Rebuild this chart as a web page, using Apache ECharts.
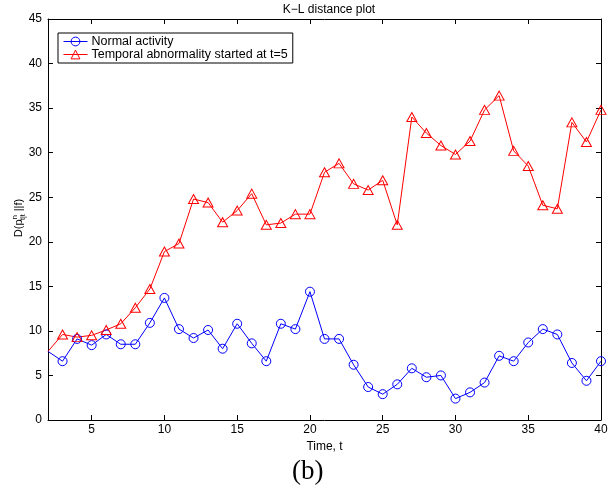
<!DOCTYPE html>
<html>
<head>
<meta charset="utf-8">
<script src="https://cdn.jsdelivr.net/npm/echarts@6/dist/echarts.min.js"></script>
<style>
  html, body { margin: 0; padding: 0; background: #fff; }
  #main { width: 613px; height: 490px; }
</style>
</head>
<body>
<div id="main"></div>
<script>
// data
let times = [2,3,4,5,6,7,8,9,10,11,12,13,14,15,16,17,18,19,20,21,22,23,24,25,26,27,28,29,30,31,32,33,34,35,36,37,38,39,40];
let normalVals = [7.7,6.6,9.1,8.4,9.6,8.5,8.5,10.9,13.7,10.2,9.2,10.1,8.0,10.8,8.6,6.6,10.8,10.2,14.4,9.1,9.1,6.2,3.7,2.9,4.0,5.8,4.8,5.0,2.4,3.1,4.2,7.2,6.6,8.7,10.2,9.6,6.4,4.4,6.6];
let abnormalVals = [7.7,9.6,9.3,9.5,10.1,10.8,12.6,14.7,18.9,19.8,24.8,24.4,22.2,23.5,25.4,21.9,22.1,23.1,23.1,27.8,28.8,26.5,25.8,26.9,21.9,34.0,32.2,30.8,29.8,31.3,34.8,36.4,30.2,28.5,24.1,23.7,33.4,31.2,34.8];
let xTicks = [5,10,15,20,25,30,35,40];
let seriesNames = ['Normal activity', 'Temporal abnormality started at t=5'];

// first point sits on the left axis and has no marker in the picture
let pairs = function (vals) {
    return times.map(function (t, i) {
        if (i === 0) return { value: [t, vals[i]], symbol: 'none' };
        return [t, vals[i]];
    });
};

let myChart = echarts.init(document.getElementById('main'));

let font = 'Liberation Sans, Arial, sans-serif';
let axisCommon = {
    axisLine: { show: true, onZero: false, lineStyle: { color: '#000', width: 1 } },
    axisTick: { show: true, inside: true, length: 5, lineStyle: { color: '#000' } },
    splitLine: { show: false }
};

let option = {
    animation: false,
    backgroundColor: '#fff',
    title: {
        text: 'K\u2212L distance plot',
        left: 324, top: -1, textAlign: 'center',
        textStyle: { fontFamily: font, fontSize: 12, fontWeight: 'normal', color: '#000' }
    },
    legend: {
        left: 58, top: 33,
        orient: 'vertical',
        data: seriesNames,
        backgroundColor: '#fff',
        borderColor: '#000', borderWidth: 1, borderRadius: 0,
        padding: [2, 5, 2, 5],
        itemGap: 0,
        itemWidth: 24, itemHeight: 11,
        lineStyle: { width: 1 },
        itemStyle: { borderWidth: 1 },
        textStyle: { fontFamily: font, fontSize: 12.5, color: '#000', padding: [0, 0, 0, -1] }
    },
    grid: { left: 48, right: 12, top: 19, bottom: 70, containLabel: false, outerBoundsMode: 'none' },
    xAxis: [
        Object.assign({}, axisCommon, {
            type: 'value', min: 2, max: 40,
            name: 'Time, t', nameLocation: 'middle', nameGap: 16,
            nameTextStyle: { fontFamily: font, fontSize: 12, color: '#000' },
            axisTick: { show: true, inside: true, length: 5, lineStyle: { color: '#000' }, customValues: xTicks },
            axisLabel: { fontFamily: font, fontSize: 12, color: '#000', margin: 4, customValues: xTicks }
        }),
        Object.assign({}, axisCommon, {
            type: 'value', min: 2, max: 40, position: 'top',
            axisTick: { show: true, inside: true, length: 5, lineStyle: { color: '#000' }, customValues: xTicks },
            axisLabel: { show: false }
        })
    ],
    yAxis: [
        Object.assign({}, axisCommon, {
            type: 'value', min: 0, max: 45, interval: 5,
            axisLabel: { fontFamily: font, fontSize: 12, color: '#000', margin: 6 }
        }),
        Object.assign({}, axisCommon, {
            type: 'value', min: 0, max: 45, interval: 5, position: 'right',
            axisLabel: { show: false }
        })
    ],
    series: [
        {
            name: seriesNames[0],
            type: 'line',
            data: pairs(normalVals),
            symbol: 'circle', symbolSize: 9,
            color: '#0000ff',
            lineStyle: { width: 1, color: '#0000ff' },
            itemStyle: { color: 'rgba(255,255,255,0)', borderColor: '#0000ff', borderWidth: 1 }
        },
        {
            name: seriesNames[1],
            type: 'line',
            data: pairs(abnormalVals),
            symbol: 'triangle', symbolSize: [10, 9],
            color: '#ff0000',
            lineStyle: { width: 1, color: '#ff0000' },
            itemStyle: { color: 'rgba(255,255,255,0)', borderColor: '#ff0000', borderWidth: 1 }
        }
    ],
    graphic: [
        {
            // y axis name: D(p^n_{t|t} || f)
            type: 'text', x: 19, y: 218, rotation: Math.PI / 2,
            style: {
                text: '{a|D(p}{b|n}{c|t|t}{a| ||f)}',
                align: 'center', verticalAlign: 'middle',
                rich: {
                    a: { fontFamily: font, fontSize: 11, fill: '#000' },
                    b: { fontFamily: font, fontSize: 8, fill: '#000', padding: [0, 0, 9, 0] },
                    c: { fontFamily: font, fontSize: 7, fill: '#000', padding: [8, 0, 0, -5] }
                }
            }
        },
        {
            type: 'text', left: 292, top: 458,
            style: { text: '(b)', font: '27px "Liberation Serif", "Times New Roman", serif', fill: '#000' }
        }
    ]
};

myChart.setOption(option);
window.addEventListener('resize', function () {
    myChart.resize();
});
</script>
</body>
</html>
